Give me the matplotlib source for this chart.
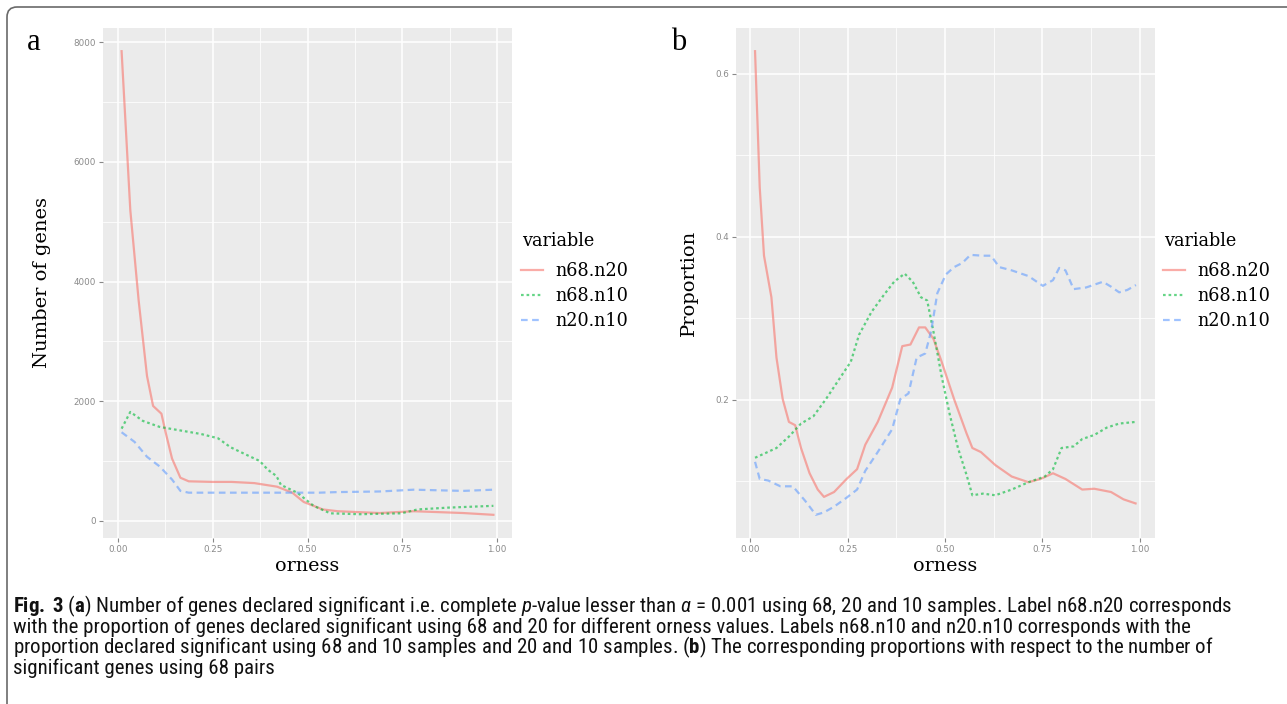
import numpy as np
import matplotlib.pyplot as plt
from matplotlib import font_manager
from matplotlib.patches import FancyBboxPatch

names = {f.name for f in font_manager.fontManager.ttflist}
cap_font = "Open Sans"
for cand in ["Liberation Sans Narrow", "Roboto Condensed", "Roboto"]:
    if cand in names:
        cap_font = cand
        break

plt.rcParams["mathtext.fontset"] = "custom"
plt.rcParams["mathtext.rm"] = cap_font
plt.rcParams["mathtext.it"] = cap_font + ":italic"
plt.rcParams["mathtext.bf"] = cap_font + ":bold"

series = ["n68.n20", "n68.n10", "n20.n10"]
colours = ["#F8766D", "#00BA38", "#619CFF"]
styles = ["-", (0, (1.2, 1.3)), (0, (3, 2))]

x_ticks = [0.0, 0.25, 0.5, 0.75, 1.0]
x_ticklabels = ["0.00", "0.25", "0.50", "0.75", "1.00"]
a_yticks = [0, 2000, 4000, 6000, 8000]
b_yticks = [0.2, 0.4, 0.6]
b_yticklabels = ["0.2", "0.4", "0.6"]

# (a) number of genes
a_red_x = [0.01, 0.033, 0.055, 0.077, 0.093, 0.115, 0.126, 0.143, 0.165, 0.187,
           0.25, 0.30, 0.36, 0.42, 0.46, 0.49, 0.54, 0.58, 0.69, 0.78, 0.91, 0.99]
a_red_y = [7850, 5190, 3680, 2420, 1920, 1790, 1480, 1040, 720, 660,
           650, 650, 630, 570, 470, 315, 190, 160, 130, 160, 130, 100]
a_green_x = [0.01, 0.033, 0.066, 0.11, 0.165, 0.22, 0.264, 0.297, 0.34, 0.374,
             0.396, 0.418, 0.43, 0.473, 0.516, 0.56, 0.637, 0.747, 0.79, 0.87, 0.99]
a_green_y = [1540, 1820, 1670, 1570, 1510, 1450, 1380, 1230, 1100, 1000,
             850, 750, 600, 470, 250, 125, 110, 125, 190, 220, 250]
a_blue_x = [0.01, 0.044, 0.077, 0.11, 0.143, 0.165, 0.187, 0.30, 0.42, 0.53,
            0.58, 0.69, 0.78, 0.91, 0.99]
a_blue_y = [1480, 1320, 1070, 910, 690, 500, 470, 470, 470, 470,
            480, 490, 520, 500, 520]

# (b) proportions
b_red_x = [0.012, 0.024, 0.035, 0.054, 0.067, 0.083, 0.099, 0.115, 0.13, 0.152,
           0.173, 0.189, 0.215, 0.247, 0.274, 0.295, 0.327, 0.364, 0.39, 0.411,
           0.433, 0.449, 0.47, 0.491, 0.523, 0.555, 0.57, 0.592, 0.629, 0.671,
           0.714, 0.745, 0.777, 0.809, 0.852, 0.883, 0.926, 0.958, 0.989]
b_red_y = [0.628, 0.461, 0.377, 0.326, 0.252, 0.201, 0.173, 0.169, 0.141, 0.110,
           0.090, 0.081, 0.087, 0.103, 0.115, 0.145, 0.173, 0.215, 0.266, 0.268,
           0.289, 0.289, 0.275, 0.247, 0.201, 0.159, 0.141, 0.136, 0.120, 0.106,
           0.099, 0.103, 0.110, 0.103, 0.090, 0.091, 0.087, 0.078, 0.073]
b_green_x = [0.012, 0.035, 0.067, 0.099, 0.13, 0.162, 0.194, 0.226, 0.258, 0.279,
             0.311, 0.343, 0.369, 0.396, 0.417, 0.438, 0.454, 0.47, 0.491, 0.512,
             0.533, 0.555, 0.57, 0.597, 0.629, 0.671, 0.714, 0.756, 0.777, 0.799,
             0.83, 0.852, 0.883, 0.915, 0.947, 0.989]
b_green_y = [0.129, 0.134, 0.141, 0.155, 0.171, 0.180, 0.201, 0.224, 0.247, 0.280,
             0.308, 0.329, 0.345, 0.355, 0.345, 0.326, 0.322, 0.284, 0.229, 0.182,
             0.141, 0.108, 0.083, 0.085, 0.083, 0.090, 0.099, 0.106, 0.115, 0.141,
             0.143, 0.152, 0.157, 0.166, 0.171, 0.173]
b_blue_x = [0.012, 0.024, 0.046, 0.077, 0.109, 0.141, 0.168, 0.189, 0.215, 0.247,
            0.274, 0.295, 0.327, 0.364, 0.385, 0.406, 0.427, 0.449, 0.464, 0.48,
            0.502, 0.523, 0.544, 0.565, 0.597, 0.618, 0.639, 0.671, 0.714, 0.751,
            0.777, 0.793, 0.809, 0.83, 0.862, 0.905, 0.926, 0.947, 0.968, 0.99]
b_blue_y = [0.124, 0.103, 0.101, 0.094, 0.094, 0.076, 0.059, 0.062, 0.069, 0.080,
            0.090, 0.113, 0.136, 0.164, 0.201, 0.208, 0.252, 0.257, 0.284, 0.331,
            0.354, 0.363, 0.368, 0.378, 0.377, 0.377, 0.363, 0.359, 0.352, 0.340,
            0.347, 0.362, 0.359, 0.336, 0.338, 0.345, 0.339, 0.332, 0.335, 0.341]

caption = [
    r"$\mathbf{Fig.}$ $\mathbf{3}$ ($\mathbf{a}$) Number of genes declared significant i.e. complete $p$-value lesser than $\alpha$ = 0.001 using 68, 20 and 10 samples. Label n68.n20 corresponds",
    "with the proportion of genes declared significant using 68 and 20 for different orness values. Labels n68.n10 and n20.n10 corresponds with the",
    r"proportion declared significant using 68 and 10 samples and 20 and 10 samples. ($\mathbf{b}$) The corresponding proportions with respect to the number of",
    "significant genes using 68 pairs",
]

W, H = 1287, 704
fig = plt.figure(figsize=(W / 100, H / 100), dpi=100)

serif = "DejaVu Serif"


def panel(left, width, data, ylabel, ylab_x, letter, letter_x, leg_x):
    ax = fig.add_axes([left / W, 1 - 538 / H, width / W, 510 / H])
    ax.set_facecolor("#EBEBEB")
    for s in ax.spines.values():
        s.set_visible(False)
    handles = []
    for (xs, ys), c, ls, name in zip(data, colours, styles, series):
        h, = ax.plot(xs, ys, color=c, ls=ls, lw=1.6, alpha=0.6, label=name)
        handles.append(h)
    ax.margins(0.05)
    ax.set_xticks(x_ticks)
    ax.set_xticklabels(x_ticklabels)
    ax.set_xticks([0.125, 0.375, 0.625, 0.875], minor=True)
    ax.grid(True, which="major", color="white", lw=1.1)
    ax.grid(True, which="minor", color="white", lw=0.55)
    ax.set_axisbelow(True)
    ax.tick_params(which="major", length=3, width=0.8, color="#888888",
                   labelsize=6.3, labelcolor="#8a8a8a", pad=2)
    ax.tick_params(which="minor", length=0)
    ax.set_xlabel("orness", family=serif, fontsize=13.8)
    ax.xaxis.set_label_coords(0.5, -0.038)
    ax.set_ylabel(ylabel, family=serif, fontsize=14)
    ax.yaxis.set_label_coords(ylab_x, 0.5)
    fig.text(letter_x / W, 1 - 43 / H, letter, family="Liberation Serif",
             fontsize=22, va="center", ha="left")
    fig.text((leg_x + 1) / W, 1 - 241 / H, "variable", family=serif,
             fontsize=12.7, va="center", ha="left")
    fig.legend(handles=handles, loc="center left",
               bbox_to_anchor=(leg_x / W, 1 - 296 / H),
               frameon=False, borderpad=0, borderaxespad=0,
               handlelength=1.25, handletextpad=0.72, labelspacing=0.38,
               prop={"family": serif, "size": 12.7})
    return ax


ax_a = panel(103, 409, [(a_red_x, a_red_y), (a_green_x, a_green_y), (a_blue_x, a_blue_y)],
             "Number of genes", -0.128, "a", 27, 521)
ax_a.set_yticks(a_yticks)
ax_a.set_yticks([1000, 3000, 5000, 7000], minor=True)

ax_b = panel(736, 419, [(b_red_x, b_red_y), (b_green_x, b_green_y), (b_blue_x, b_blue_y)],
             "Proportion", -0.092, "b", 671, 1163)
ax_b.set_yticks(b_yticks)
ax_b.set_yticklabels(b_yticklabels)
ax_b.set_yticks([0.1, 0.3, 0.5], minor=True)

# frame of the figure box (top and left edges)
frame = FancyBboxPatch((0.07, -0.5), 13.5, 7.04 - 0.07 + 0.5,
                       boxstyle="round,pad=0,rounding_size=0.1",
                       transform=fig.dpi_scale_trans, fill=False,
                       edgecolor="#6a6a6a", lw=1.2)
fig.add_artist(frame)

cap_texts = []
for i, line in enumerate(caption):
    t = fig.text(13 / W, 1 - (606.5 + 20.5 * i) / H, line, family=cap_font,
                 fontsize=11, va="center", ha="left", color="#111111")
    cap_texts.append(t)

# fit the first caption line to (almost) the width of the box
renderer = fig.canvas.get_renderer()
w = cap_texts[0].get_window_extent(renderer).width
size = 11 * 1215 / w
for t in cap_texts:
    t.set_fontsize(size)

fig.savefig("out.png", dpi=100)
